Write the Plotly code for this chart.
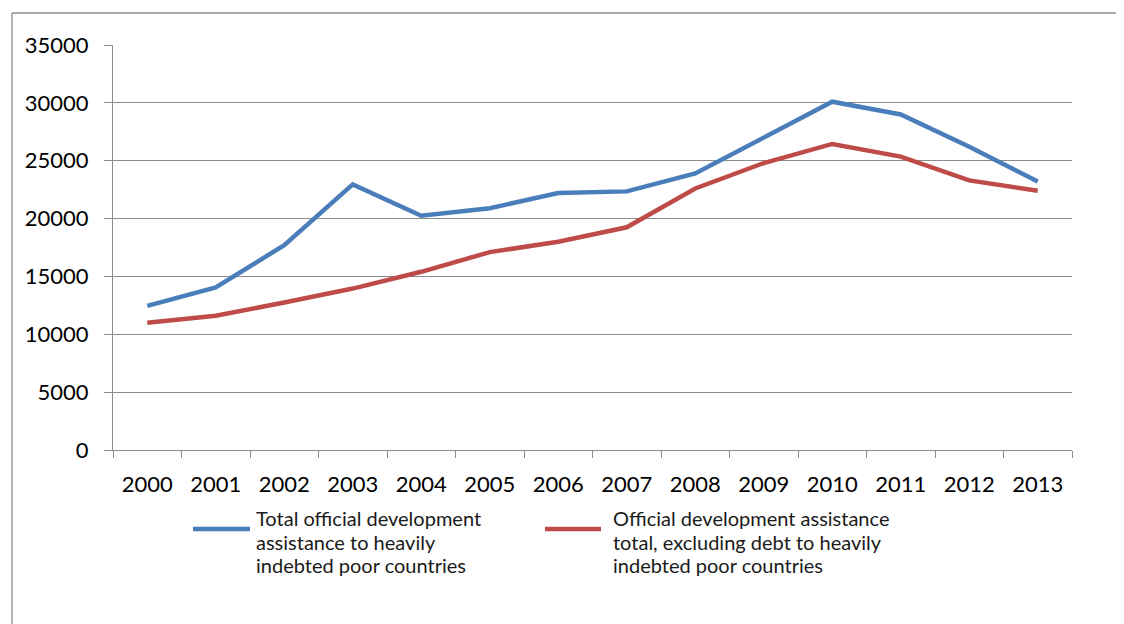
import plotly.graph_objects as go

years = ["2000", "2001", "2002", "2003", "2004", "2005", "2006",
         "2007", "2008", "2009", "2010", "2011", "2012", "2013"]
total_oda = [12450, 14050, 17700, 22950, 20250, 20900, 22200,
             22350, 23900, 27000, 30100, 29000, 26200, 23200]
oda_excl_debt = [11000, 11600, 12750, 13950, 15400, 17100, 18000,
                 19250, 22600, 24800, 26450, 25350, 23300, 22400]
name_lines = [["Total official development", "assistance to heavily",
               "indebted poor countries"],
              ["Official development assistance", "total, excluding debt to heavily",
               "indebted poor countries"]]
colors = ["#4A7EBB", "#BE4B48"]
y_ticks = [0, 5000, 10000, 15000, 20000, 25000, 30000, 35000]
y_labels = ["0", "5000", "10000", "15000", "20000", "25000", "30000", "35000"]

OFF = 8  # page body margin
W, H = 1124 - OFF, 624 - OFF
L, R, T, B = 113 - OFF, 1072 - OFF, 45 - OFF, 450 - OFF

def px_x(X):
    return (X - OFF - L) / (R - L)

def px_y(Y):
    return (B - (Y - OFF)) / (B - T)

fig = go.Figure()
for vals, nl, col in zip([total_oda, oda_excl_debt], name_lines, colors):
    fig.add_trace(go.Scatter(x=years, y=vals, mode="lines", name=" ".join(nl),
                             line=dict(color=col, width=4.5), showlegend=False))

grid = "#8C8C8C"
fig.update_layout(
    width=W, height=H,
    margin=dict(l=L, r=W - R, t=T, b=H - B, autoexpand=False),
    paper_bgcolor="white", plot_bgcolor="white",
    font=dict(family="Lato", color="black"),
    xaxis=dict(type="category", tickson="boundaries", ticks="outside", ticklen=7,
               tickcolor=grid, tickwidth=1.3, showgrid=False, showline=True,
               linecolor=grid, linewidth=1.3, tickfont=dict(size=22),
               ticklabelstandoff=14, range=[-0.5, 13.5]),
    yaxis=dict(range=[0, 35000], tickvals=y_ticks, ticktext=y_labels,
               ticks="outside", ticklen=8,
               tickcolor=grid, tickwidth=1.3, showgrid=True, gridcolor=grid,
               gridwidth=1.3, showline=True, linecolor=grid, linewidth=1.3,
               zeroline=False, tickfont=dict(size=22), ticklabelstandoff=11),
)

# outer chart border (top and left visible)
fig.add_shape(type="line", xref="paper", yref="paper",
              x0=px_x(12), x1=px_x(1130), y0=px_y(13), y1=px_y(13),
              line=dict(color=grid, width=1.3))
fig.add_shape(type="line", xref="paper", yref="paper",
              x0=px_x(12), x1=px_x(12), y0=px_y(13), y1=px_y(630),
              line=dict(color=grid, width=1.3))

# legend
leg = [(193, 250, 254), (545, 601, 611)]
for (x0, x1, xt), nl, col in zip(leg, name_lines, colors):
    fig.add_shape(type="line", xref="paper", yref="paper",
                  x0=px_x(x0), x1=px_x(x1), y0=px_y(529), y1=px_y(529),
                  line=dict(color=col, width=4.5))
    for i, line in enumerate(nl):
        fig.add_annotation(xref="paper", yref="paper", x=px_x(xt),
                           y=px_y(518 + 23.7 * i),
                           xanchor="left", yanchor="middle", align="left",
                           text=line, showarrow=False,
                           font=dict(family="Lato", size=20, color="#1a1a1a"))

fig.write_html("out.html")
